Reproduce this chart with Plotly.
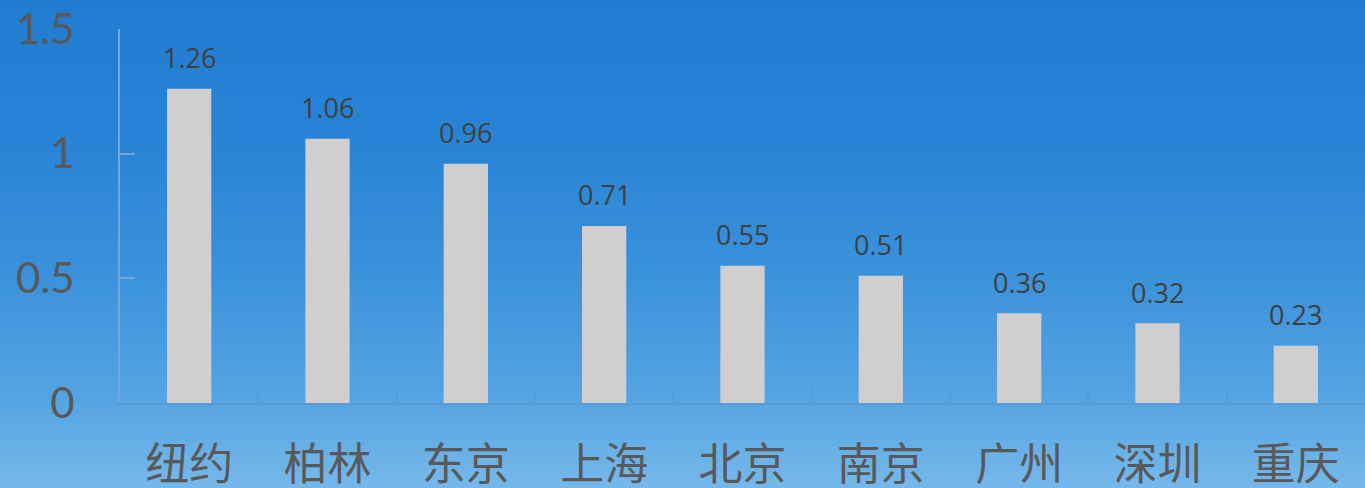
import plotly.graph_objects as go

cities = ["纽约", "柏林", "东京", "上海", "北京", "南京", "广州", "深圳", "重庆"]
values = [1.26, 1.06, 0.96, 0.71, 0.55, 0.51, 0.36, 0.32, 0.23]
y_ticks = [0, 0.5, 1, 1.5]
y_tick_text = ["0", "0.5", "1", "1.5"]

W, H = 1365, 488
ML, MR, MT, MB = 120, 0, 29, 85

fig = go.Figure()
fig.add_trace(go.Bar(
    x=cities, y=values, width=0.32,
    marker=dict(color="#d0cece", line=dict(width=0)),
    hoverinfo="skip",
))

for c, v in zip(cities, values):
    fig.add_annotation(x=c, y=v, text=f"{v:g}", showarrow=False, yshift=31,
                       font=dict(family="Open Sans", size=27, color="#404040"))

# vertical gradient background built from strips
stops = [(0.0, (33, 124, 208)), (0.3, (40, 132, 214)), (0.6, (62, 148, 220)),
         (0.82, (85, 164, 226)), (1.0, (118, 184, 234))]
def col(t):
    for (t0, c0), (t1, c1) in zip(stops[:-1], stops[1:]):
        if t0 <= t <= t1:
            f = (t - t0) / (t1 - t0)
            return "rgb(%d,%d,%d)" % tuple(round(a + (b - a) * f) for a, b in zip(c0, c1))
    return "rgb(%d,%d,%d)" % stops[-1][1]

N = 60
shapes = []
ph = H - MT - MB
pw = W - ML - MR
for i in range(N):
    top_px = H * i / N - 1
    bot_px = H * (i + 1) / N + 1
    y0 = (H - MB - bot_px) / ph
    y1 = (H - MB - top_px) / ph
    shapes.append(dict(type="rect", xref="paper", yref="paper",
                       x0=-ML / pw - 0.01, x1=1.01, y0=y0, y1=y1,
                       fillcolor=col((i + 0.5) / N), line=dict(width=0),
                       layer="below"))

fig.update_layout(
    width=W, height=H,
    margin=dict(l=ML, r=MR, t=MT, b=MB, autoexpand=False),
    paper_bgcolor="rgb(33,124,208)",
    plot_bgcolor="rgba(0,0,0,0)",
    shapes=shapes,
    showlegend=False,
    bargap=0.68,
    xaxis=dict(
        automargin=False,
        showgrid=False, zeroline=False,
        showline=True, linecolor="#5b9bd5", linewidth=2,
        ticks="inside", tickson="boundaries", ticklen=16, tickcolor="#5b9bd5", tickwidth=2,
        tickfont=dict(family="Noto Sans CJK SC", size=44, color="#595959"),
        ticklabelstandoff=22,
        range=[-0.5, 8.5], fixedrange=True,
    ),
    yaxis=dict(
        automargin=False,
        range=[0, 1.5], showgrid=False, zeroline=False,
        showline=True, linecolor="#6fa8dc", linewidth=2,
        ticks="inside", ticklen=15, tickcolor="#6fa8dc", tickwidth=2,
        tickvals=y_ticks, ticktext=y_tick_text,
        tickfont=dict(family="Lato", size=42, color="#595959"),
        ticklabelstandoff=35,
        fixedrange=True,
    ),
)

fig.write_html("out.html", config={"displayModeBar": False},
               post_script="document.body.style.margin='0';document.body.style.overflow='hidden';")
